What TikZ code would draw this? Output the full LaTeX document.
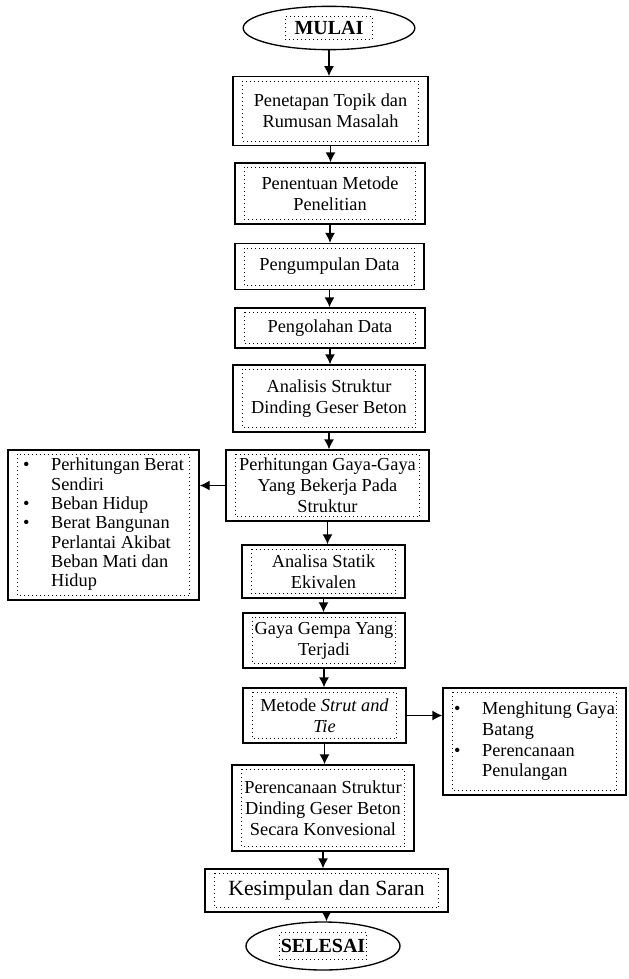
\documentclass[tikz,border=0pt]{standalone}
\usepackage{fontspec}
\setmainfont{Liberation Serif}
\usetikzlibrary{shapes.geometric,arrows.meta}

\begin{document}
\begin{tikzpicture}[x=0.6pt,y=-0.6pt]

\tikzstyle{v} = [ellipse, draw=black, thick, inner sep=0pt, font=\fontsize{12}{14}\selectfont\bfseries]
\tikzstyle{b} = [rectangle, draw=black, thick, inner sep=0pt, align=center, font=\fontsize{11}{12.5}\selectfont]
\tikzstyle{e} = [-{Latex[length=6pt,width=6pt]}, thick]
\tikzstyle{d} = [dotted, thin]

\useasboundingbox (0,0) rectangle (628,979);

\node[v, minimum width=103pt, minimum height=26pt](mulai)at(329,28){MULAI};
\node[b, minimum width=117pt, minimum height=41pt](topik)at(330.5,111){Penetapan Topik dan\\Rumusan Masalah};
\node[b, minimum width=114pt, minimum height=36.6pt](metode)at(330,193.5){Penentuan Metode\\Penelitian};
\node[b, minimum width=113.4pt, minimum height=27.6pt](kumpul)at(329.5,266.5){Pengumpulan Data};
\node[b, minimum width=114pt, minimum height=24pt](olah)at(330,328){Pengolahan Data};
\node[b, minimum width=115.2pt, minimum height=40.2pt](analisis)at(329,398.5){Analisis Struktur\\Dinding Geser Beton};
\node[b, minimum width=121.8pt, minimum height=42.6pt](gaya)at(327.5,485.5){Perhitungan Gaya-Gaya\\Yang Bekerja Pada\\Struktur};
\node[b, minimum width=114.6pt, minimum height=90pt, font=\fontsize{11}{11.6}\selectfont](berat)at(103.5,525){%
  \begin{tabular}{@{}l@{\hspace{13pt}}l@{}}
  \textbullet & Perhitungan Berat\\
              & Sendiri\\
  \textbullet & Beban Hidup\\
  \textbullet & Berat Bangunan\\
              & Perlantai Akibat\\
              & Beban Mati dan\\
              & Hidup
  \end{tabular}};
\node[b, minimum width=97.8pt, minimum height=31.8pt](statik)at(323.5,571.5){Analisa Statik\\Ekivalen};
\node[b, minimum width=97.2pt, minimum height=33pt](gempa)at(324,640.5){Gaya Gempa Yang\\Terjadi};
\node[b, minimum width=97.8pt, minimum height=33pt](strut)at(324.5,715.5){Metode \textit{Strut and}\\\textit{Tie}};
\node[b, minimum width=109.8pt, minimum height=64.2pt](batang)at(534.5,741.5){%
  \begin{tabular}{@{}l@{\hspace{13pt}}l@{}}
  \textbullet & Menghitung Gaya\\
              & Batang\\
  \textbullet & Perencanaan\\
              & Penulangan
  \end{tabular}};
\node[b, minimum width=109.2pt, minimum height=51.6pt](rencana)at(323,808){Perencanaan Struktur\\Dinding Geser Beton\\Secara Konvesional};
\node[b, minimum width=145.8pt, minimum height=25.8pt, font=\fontsize{13}{15}\selectfont](simpul)at(326.5,890.5){Kesimpulan dan Saran};
\node[v, minimum width=92.4pt, minimum height=28.8pt](selesai)at(323,946){SELESAI};

% text frames
\foreach \n in {topik,metode,kumpul,olah,analisis,gaya,berat,statik,gempa,strut,batang,rencana,simpul}
  \draw[d]([xshift=6pt,yshift=-3pt]\n.north west) rectangle ([xshift=-6pt,yshift=3pt]\n.south east);
\draw[d]([shift={(-26pt,-7pt)}]mulai.center) rectangle ([shift={(26pt,7pt)}]mulai.center);
\draw[d]([shift={(-26pt,-8pt)}]selesai.center) rectangle ([shift={(26pt,8pt)}]selesai.center);

\draw[e](mulai) -- (mulai |- topik.north);
\draw[e](topik) -- (topik |- metode.north);
\draw[e](metode) -- (metode |- kumpul.north);
\draw[e](kumpul) -- (kumpul |- olah.north);
\draw[e](olah) -- (olah |- analisis.north);
\draw[e](analisis) -- (analisis |- gaya.north);
\draw[e](gaya) -- (gaya -| berat.east);
\draw[e](gaya) -- (gaya |- statik.north);
\draw[e](statik) -- (statik |- gempa.north);
\draw[e](gempa) -- (gempa |- strut.north);
\draw[e](strut) -- (strut -| batang.west);
\draw[e](strut) -- (strut |- rencana.north);
\draw[e](rencana) -- (rencana |- simpul.north);
\draw[e](simpul) -- (simpul |- selesai.north);

\end{tikzpicture}
\end{document}
